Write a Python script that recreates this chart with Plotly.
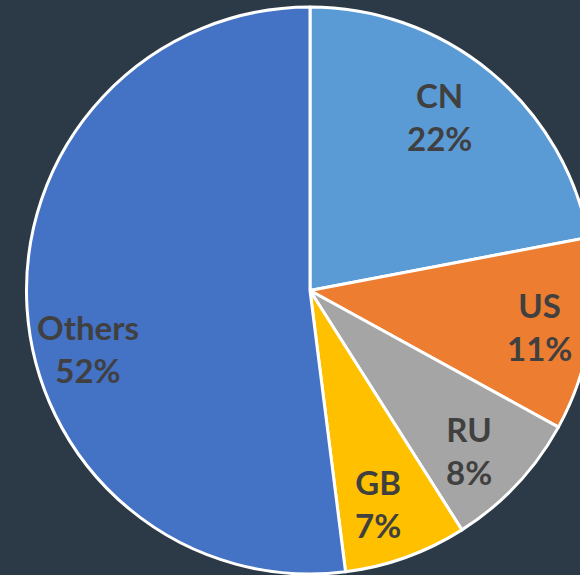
import math
import plotly.graph_objects as go

labels = ["CN", "US", "RU", "GB", "Others"]
values = [22, 11, 8, 7, 52]
colors = ["#5B9BD5", "#ED7D31", "#A5A5A5", "#FFC000", "#4472C4"]

# label placement style (radial fraction and angle nudge, degrees)
label_rfrac = [0.765, 0.82, 0.795, 0.79, 0.81]
label_nudge = [-3, 0, 2, 2, -11]

W, H = 620, 575
dom_y = [0.0017, 0.9878]

fig = go.Figure(go.Pie(
    labels=labels,
    values=values,
    sort=False,
    direction="clockwise",
    rotation=0,
    marker=dict(colors=colors, line=dict(color="white", width=3)),
    textinfo="none",
    domain=dict(x=[0, 1], y=dom_y),
    showlegend=False,
    hoverinfo="label+percent",
))

# pie geometry in pixels (derived from layout)
cx = W / 2
cy = H * (1 - (dom_y[0] + dom_y[1]) / 2)
R = min(W, H * (dom_y[1] - dom_y[0])) / 2
total = sum(values)
cum = 0
annotations = []
for lab, v, f, nd in zip(labels, values, label_rfrac, label_nudge):
    mid = math.radians((cum + v / 2) / total * 360 + nd)
    cum += v
    px = cx + f * R * math.sin(mid)
    py = cy - f * R * math.cos(mid)
    annotations.append(dict(
        x=px / W, y=1 - py / H, xref="paper", yref="paper",
        xanchor="center", yanchor="middle", showarrow=False,
        text=f"{lab}<br>{v}%",
        font=dict(family="Lato", size=33, color="#404040", weight="bold"),
    ))

fig.update_layout(
    width=W, height=H,
    margin=dict(l=0, r=0, t=0, b=0),
    paper_bgcolor="#2c3a47",
    plot_bgcolor="#2c3a47",
    annotations=annotations,
)

fig.write_html(
    "out.html",
    config={"displayModeBar": False},
    post_script="document.body.style.margin='0';document.body.style.overflow='hidden';document.documentElement.style.overflow='hidden';",
)
